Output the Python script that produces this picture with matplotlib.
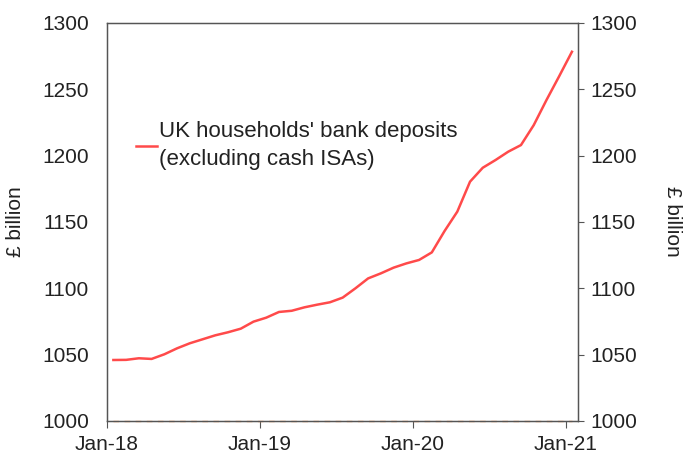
import numpy as np
import matplotlib
matplotlib.use('Agg')
import matplotlib.pyplot as plt

OUTFILE = "out.png"

# monthly, Jan-18 .. Jan-21 (£ billion)
months = ["Jan-18", "Feb-18", "Mar-18", "Apr-18", "May-18", "Jun-18", "Jul-18",
          "Aug-18", "Sep-18", "Oct-18", "Nov-18", "Dec-18",
          "Jan-19", "Feb-19", "Mar-19", "Apr-19", "May-19", "Jun-19", "Jul-19",
          "Aug-19", "Sep-19", "Oct-19", "Nov-19", "Dec-19",
          "Jan-20", "Feb-20", "Mar-20", "Apr-20", "May-20", "Jun-20", "Jul-20",
          "Aug-20", "Sep-20", "Oct-20", "Nov-20", "Dec-20", "Jan-21"]
deposits = [1045.9, 1046.0, 1047.2, 1046.7, 1050.2, 1054.7, 1058.5,
            1061.5, 1064.5, 1066.8, 1069.5, 1074.8,
            1077.8, 1082.1, 1083.0, 1085.6, 1087.6, 1089.4, 1092.9,
            1099.9, 1107.4, 1111.2, 1115.5, 1118.7,
            1121.3, 1127.0, 1143.1, 1157.7, 1180.3, 1190.8, 1196.6,
            1202.9, 1207.9, 1222.9, 1241.8, 1259.8, 1278.2]
baseline = [1000] * len(months)
tick_labels = ["Jan-18", "Jan-19", "Jan-20", "Jan-21"]
yticks = [1000, 1050, 1100, 1150, 1200, 1250, 1300]

TXT = '#222222'
plt.rcParams['font.family'] = ['Liberation Sans', 'DejaVu Sans']
plt.rcParams['font.size'] = 15

fig = plt.figure(figsize=(6.86, 4.57), dpi=100)
ax = fig.add_axes([0.156, 0.079, 0.687, 0.871])

# category axis: points sit in the middle of each month slot
x = np.arange(len(months)) + 0.5
ax.plot(x, baseline, color='#e8925a', lw=1.0, ls=(0, (4, 4)), zorder=3,
        clip_on=False)
ax.plot(x, deposits, color='#ff4a4a', lw=1.8,
        label="UK households' bank deposits\n(excluding cash ISAs)")

ax.set_xlim(0, len(months))
ax.set_ylim(1000, 1300)
ax.set_yticks(yticks)
ax.set_xticks([months.index(t) for t in tick_labels])
ax.set_xticklabels(tick_labels)
ax.tick_params(axis='y', length=0, pad=13, colors=TXT)
ax.tick_params(axis='x', length=5, direction='out', pad=5, colors=TXT,
               color='#555555')
ax.set_ylabel('£ billion', labelpad=12, color=TXT)

for s in ax.spines.values():
    s.set_color('#555555')
    s.set_linewidth(1.0)

ax2 = ax.twinx()
ax2.set_ylim(ax.get_ylim())
ax2.set_yticks(yticks)
ax2.tick_params(axis='y', length=4, direction='out', pad=5, colors=TXT,
                color='#555555')
ax2.set_ylabel('£ billion', rotation=270, labelpad=32, color=TXT)
for s in ax2.spines.values():
    s.set_color('#555555')

leg = ax.legend(loc='upper left', bbox_to_anchor=(0.042, 0.775), frameon=False,
                handlelength=0.95, handletextpad=0.1, borderaxespad=0,
                fontsize=16, labelspacing=0)
for t in leg.get_texts():
    t.set_linespacing(1.4)
    t.set_color(TXT)

fig.savefig(OUTFILE, dpi=100)
print("Plot output saved in {}".format(OUTFILE))
